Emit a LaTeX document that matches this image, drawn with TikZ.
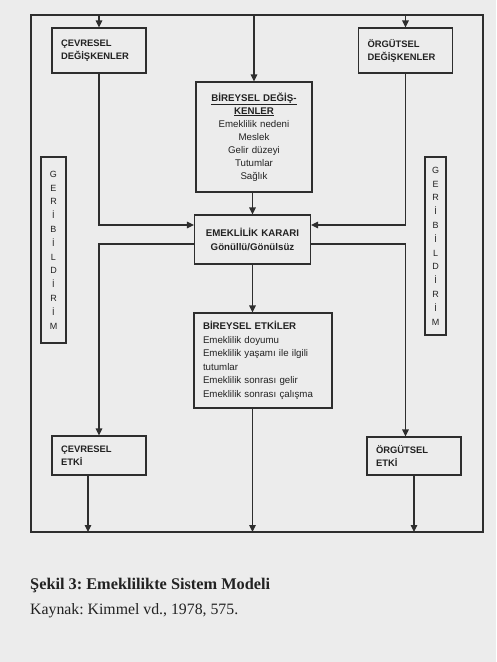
\documentclass[tikz,border=0pt]{standalone}
\usepackage{fontspec}
\setmainfont{Liberation Serif}
\newfontfamily\kutufont{Liberation Sans}
\usepackage{xcolor}
\usepackage{tikz}
\usetikzlibrary{positioning,arrows.meta}
\definecolor{ksayfa}{HTML}{ECECEC}
\definecolor{kcizgi}{HTML}{2E2E2E}
\definecolor{kyazi}{HTML}{222222}
\tikzset{
  kutu/.style={rectangle, draw=kcizgi, line width=1.1pt, inner xsep=9pt,
    text width=76pt, align=left, minimum height=45pt, text=kyazi,
    font=\kutufont\bfseries\fontsize{9.4}{13}\selectfont},
  orta/.style={rectangle, draw=kcizgi, line width=1.1pt, inner xsep=8pt,
    align=center, text=kyazi, font=\kutufont\fontsize{9.7}{13}\selectfont},
  sonuc/.style={rectangle, draw=kcizgi, line width=1.1pt, inner xsep=9pt,
    align=left, text=kyazi, font=\kutufont\fontsize{9.7}{13.5}\selectfont},
  geri/.style={rectangle, draw=kcizgi, line width=1.1pt, inner sep=0pt,
    minimum width=25pt, minimum height=186pt, align=center, text=kyazi,
    font=\kutufont\fontsize{9}{13.8}\selectfont},
  cizgi/.style={draw=kcizgi, line width=1.1pt},
  ok/.style={-{Triangle[length=7pt, width=6.5pt]}, draw=kcizgi, line width=1.1pt},
  alti/.style={anchor=base west, inner sep=0pt, text=kyazi},
}
\begin{document}
\frenchspacing
\begin{tikzpicture}[x=1pt, y=-1pt]
  \fill[ksayfa] (0,0) rectangle (496,662);
  \useasboundingbox (0,0) rectangle (496,662);
  % dis cerceve
  \coordinate (cus) at (31,15);
  \coordinate (cas) at (483,532);
  \coordinate (ust) at (0,15);
  \coordinate (alt) at (0,532);
  \draw[cizgi] (cus) rectangle (cas);

  % kutular
  \node[kutu] (cdeg) at (99,50.5) {ÇEVRESEL\\DEĞİŞKENLER};
  \node[kutu] (odeg) at (405.5,50.5) {ÖRGÜTSEL\\DEĞİŞKENLER};
  \node[orta, text width=100pt, minimum height=110pt] (bdeg) at (254,137)
    {\textbf{\underline{BİREYSEL DEĞİŞ-}}\\\textbf{\underline{KENLER}}\\Emeklilik nedeni\\Meslek\\Gelir düzeyi\\Tutumlar\\Sağlık};
  \node[orta, font=\kutufont\bfseries\fontsize{9.7}{14}\selectfont,
    text width=100pt, minimum height=49pt] (karar) at (252.5,239.5)
    {EMEKLİLİK KARARI\\Gönüllü/Gönülsüz\\[-4pt]};
  \node[sonuc, text width=120pt, minimum height=95pt] (betki) at (263,360.5)
    {\textbf{BİREYSEL ETKİLER}\\Emeklilik doyumu\\Emeklilik yaşamı ile ilgili\\tutumlar\\Emeklilik sonrası gelir\\Emeklilik sonrası çalışma};
  \node[kutu, minimum height=39pt] (cetki) at (99,455.5) {ÇEVRESEL\\ETKİ};
  \node[kutu, minimum height=38pt] (oetki) at (414,456) {ÖRGÜTSEL\\ETKİ};

  % geri bildirim
  \node[geri] (lgeri) at (53.5,250) {G\\E\\R\\İ\\B\\İ\\L\\D\\İ\\R\\İ\\M};
  \node[geri, minimum width=21pt, minimum height=178pt] (rgeri) at (435.5,246)
    {G\\E\\R\\İ\\B\\İ\\L\\D\\İ\\R\\İ\\M};

  % oklar
  \draw[ok] (cdeg.north |- ust) -- (cdeg.north);
  \draw[ok] (bdeg.north |- ust) -- (bdeg.north);
  \draw[ok] (odeg.north |- ust) -- (odeg.north);
  \draw[ok] (bdeg.south -| karar.north) -- (karar.north);
  \draw[ok] (cdeg.south) |- ([yshift=14.5pt]karar.west);
  \draw[ok] (odeg.south) |- ([yshift=14.5pt]karar.east);
  \draw[ok] ([yshift=-4.5pt]karar.west) -| (cetki.north);
  \draw[ok] ([yshift=-4.5pt]karar.east) -| (odeg.south |- oetki.north);
  \draw[ok] (karar.south) -- (karar.south |- betki.north);
  \draw[ok] (karar.south |- betki.south) -- (karar.south |- alt);
  \draw[ok] ([xshift=-11pt]cetki.south) -- ([xshift=-11pt]cetki.south |- alt);
  \draw[ok] (oetki.south) -- (oetki.south |- alt);

  % alt yazi
  \node[alti, font=\bfseries\fontsize{16.3}{19}\selectfont] (baslik) at (30,589)
    {Şekil 3: Emeklilikte Sistem Modeli};
  \node[alti, font=\fontsize{15.8}{19}\selectfont] (kaynak) at (30,614)
    {Kaynak: Kimmel vd., 1978, 575.};
\end{tikzpicture}
\end{document}
